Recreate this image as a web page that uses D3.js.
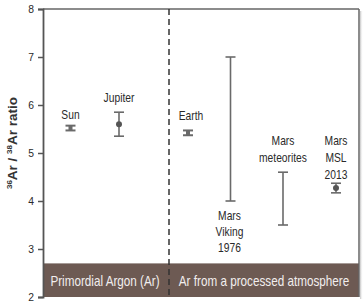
<!DOCTYPE html>
<html><head><meta charset="utf-8">
<script src="https://cdn.jsdelivr.net/npm/d3@7"></script>
<style>
html,body{margin:0;padding:0;background:#fff;}
svg{display:block;}
.narrow{font-family:"Liberation Sans","Arial",sans-serif;}
</style></head>
<body>
<script>
// ---- data ----
const categories = ["Sun", "Jupiter", "Earth", "Mars Viking 1976", "Mars meteorites", "Mars MSL 2013"];
const slot = [0.55, 1.52, 2.9, 3.75, 4.8, 5.86];          // x position in category units
const centers = [5.52, 5.6, 5.42, null, null, 4.27];
const lows = [5.47, 5.35, 5.37, 4.0, 3.5, 4.17];
const highs = [5.57, 5.85, 5.47, 7.0, 4.6, 4.37];
const showDot = [false, true, false, false, false, true];
const labelLines = [["Sun"], ["Jupiter"], ["Earth"], ["Mars", "Viking", "1976"], ["Mars", "meteorites"], ["Mars", "MSL", "2013"]];
const yTicks = [2, 3, 4, 5, 6, 7, 8];
const dividerSlot = 2.52;
const groupLabels = ["Primordial Argon (Ar)", "Ar from a processed atmosphere"];
const bandTop = 2.7;

(function () {
const W = 363, H = 302;
const mL = 43, mR = 359, mT = 9, mB = 297;
const svg = d3.select("body").append("svg").attr("width", W).attr("height", H);

const x = d3.scaleLinear().domain([0, 6.32]).range([mL, mR]);
const y = d3.scaleLinear().domain([2, 8]).range([mB, mT]);

function condense(sel, f) {
  sel.each(function () {
    const L = this.getComputedTextLength();
    if (L > 0) d3.select(this).attr("textLength", L * f).attr("lengthAdjust", "spacingAndGlyphs");
  });
}

// soft shadow on right
const defs = svg.append("defs");
const gr = defs.append("linearGradient").attr("id", "sh").attr("x1", 0).attr("x2", 1);
gr.append("stop").attr("offset", 0).attr("stop-color", "#999").attr("stop-opacity", 0.6);
gr.append("stop").attr("offset", 1).attr("stop-color", "#fff").attr("stop-opacity", 0);
svg.append("rect").attr("x", mR + 1).attr("y", mT + 2).attr("width", 3).attr("height", mB - mT).attr("fill", "url(#sh)");

// band
svg.append("rect").attr("x", mL).attr("y", y(bandTop)).attr("width", mR - mL).attr("height", y(2) - y(bandTop))
  .attr("fill", "#6d5a53");

// frame top and right
svg.append("line").attr("x1", mL).attr("x2", mR).attr("y1", mT).attr("y2", mT).attr("stroke", "#666").attr("stroke-width", 1.5);
svg.append("line").attr("x1", mR).attr("x2", mR).attr("y1", mT).attr("y2", mB).attr("stroke", "#666").attr("stroke-width", 1.5);

// y axis
const yAxis = d3.axisLeft(y).tickValues(yTicks).tickSize(5).tickPadding(4).tickFormat(d3.format("d"));
const ga = svg.append("g").attr("transform", `translate(${mL},0)`).call(yAxis);
ga.select(".domain").attr("stroke", "#555").attr("stroke-width", 1.8);
ga.selectAll(".tick line").attr("stroke", "#555").attr("stroke-width", 1.5);
ga.selectAll(".tick text").attr("class", "narrow").attr("font-size", 11.5).attr("fill", "#2a2a2a")
  .attr("font-family", "Liberation Sans, Arial, sans-serif");
condense(ga.selectAll(".tick text"), 0.9);

// y title
const yt = svg.append("text").attr("transform", `translate(17,${(y(2)+y(8))/2 - 10}) rotate(-90)`)
  .attr("text-anchor", "middle").attr("font-family", "Liberation Sans, Arial, sans-serif")
  .attr("font-weight", "bold").attr("font-size", 13.5).attr("fill", "#333");
yt.append("tspan").attr("font-size", 8).attr("dy", -5).text("36");
yt.append("tspan").attr("dy", 5).text("Ar / ");
yt.append("tspan").attr("font-size", 8).attr("dy", -5).text("38");
yt.append("tspan").attr("dy", 5).text("Ar ratio");

// divider
svg.append("line").attr("x1", x(dividerSlot)).attr("x2", x(dividerSlot)).attr("y1", mT).attr("y2", mB)
  .attr("stroke", "#333").attr("stroke-width", 1.5).attr("stroke-dasharray", "6,4");

// group labels
const gx = [(mL + x(dividerSlot)) / 2 - 1, (x(dividerSlot) + mR) / 2];
const gl = svg.selectAll(".grp").data(groupLabels).enter().append("text").attr("class", "narrow grp")
  .attr("x", (d, i) => gx[i]).attr("y", (y(bandTop) + y(2)) / 2 + 5.5)
  .attr("text-anchor", "middle").attr("font-size", 15).attr("fill", "#f2eeee").text(d => d);
condense(gl, 0.78);

// error bars
const col = "#6a6a6a";
const items = categories.map((c, i) => ({c, i, s: slot[i], ce: centers[i], lo: lows[i], hi: highs[i], dot: showDot[i], lines: labelLines[i]}));
const g = svg.append("g");
items.forEach(d => {
  const cx = x(d.s);
  const cap = 5;
  g.append("line").attr("x1", cx).attr("x2", cx).attr("y1", y(d.hi)).attr("y2", y(d.lo)).attr("stroke", col).attr("stroke-width", 1.6);
  const thick = (y(d.lo) - y(d.hi)) < 8;
  [d.hi, d.lo].forEach(v => g.append("line").attr("x1", cx - cap).attr("x2", cx + cap).attr("y1", y(v)).attr("y2", y(v))
    .attr("stroke", col).attr("stroke-width", thick ? 2 : 1.6));
  if (thick && !d.dot) {
    g.append("rect").attr("x", cx - 2).attr("y", y(d.hi)).attr("width", 4).attr("height", y(d.lo) - y(d.hi)).attr("fill", col);
  }
  if (d.dot) g.append("circle").attr("cx", cx).attr("cy", y(d.ce)).attr("r", 3).attr("fill", "#555");
});

// labels
const lh = 17;
items.forEach(d => {
  const cx = x(d.s) + (d.i === 2 ? 3 : d.i === 3 ? -1 : 0);
  const n = d.lines.length;
  const below = d.i === 3;
  const gap = d.i === 5 ? 9 : d.i === 0 ? 12 : 15;
  d.lines.forEach((t, k) => {
    const yy = below ? y(d.lo) + 19 + k * 16 : y(d.hi) - gap - (n - 1 - k) * lh + 5;
    const tx = svg.append("text").attr("class", "narrow").attr("x", cx).attr("y", yy).attr("text-anchor", "middle")
      .attr("font-size", 13.5).attr("fill", "#2a2a2a").text(t);
    condense(tx, 0.76);
  });
});
})();
</script>
</body></html>
